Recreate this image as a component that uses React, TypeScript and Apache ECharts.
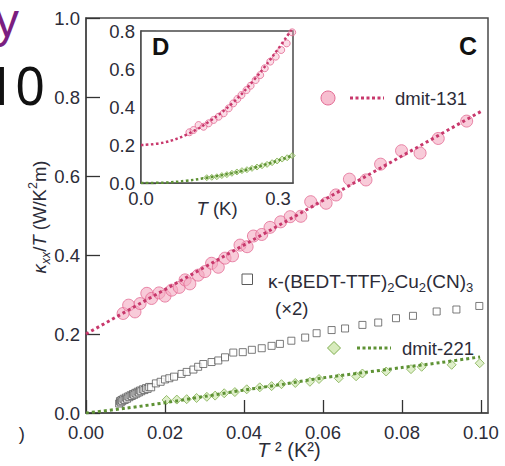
import React, { useEffect, useRef } from "react";
import * as echarts from "echarts";

// ---------- main panel (C): kappa_xx/T vs T^2 ----------
const pinkT2 = [0.0094, 0.0108, 0.0124, 0.0137, 0.0154, 0.0166, 0.0185, 0.0200, 0.0217, 0.0236, 0.0251, 0.0263, 0.0284, 0.0301, 0.0318, 0.0335, 0.0352, 0.0371, 0.0390, 0.0408, 0.0424, 0.0445, 0.0466, 0.0493, 0.0517, 0.0544, 0.0569, 0.0608, 0.0633, 0.0667, 0.0709, 0.0746, 0.0799, 0.0846, 0.0892, 0.0964];
const pinkK = [0.252, 0.273, 0.256, 0.277, 0.303, 0.290, 0.304, 0.296, 0.311, 0.318, 0.337, 0.327, 0.349, 0.358, 0.379, 0.369, 0.392, 0.398, 0.425, 0.421, 0.448, 0.452, 0.470, 0.484, 0.497, 0.498, 0.535, 0.531, 0.552, 0.592, 0.590, 0.630, 0.664, 0.658, 0.695, 0.739];
const pinkFitT2 = [0, 0.1003];
const pinkFitK = [0.2, 0.765];

const sqT2 = [0.0084, 0.0086, 0.0088, 0.0090, 0.0092, 0.0095, 0.0098, 0.0101, 0.0104, 0.0107, 0.0110, 0.0113, 0.0116, 0.0119, 0.0122, 0.0125, 0.0128, 0.0131, 0.0134, 0.0137, 0.0140, 0.0144, 0.0148, 0.0152, 0.0156, 0.0160, 0.0165, 0.0177, 0.0189, 0.0200, 0.0211, 0.0223, 0.0242, 0.0255, 0.0272, 0.0284, 0.0297, 0.0318, 0.0335, 0.0352, 0.0373, 0.0397, 0.0420, 0.0445, 0.0470, 0.0491, 0.0520, 0.0555, 0.0584, 0.0622, 0.0656, 0.0700, 0.0740, 0.0785, 0.0828, 0.0888, 0.0938, 0.0996];
const sqK = [0.024, 0.030, 0.027, 0.033, 0.030, 0.036, 0.033, 0.039, 0.036, 0.042, 0.040, 0.045, 0.043, 0.048, 0.046, 0.051, 0.049, 0.054, 0.052, 0.057, 0.055, 0.060, 0.058, 0.063, 0.061, 0.066, 0.065, 0.075, 0.079, 0.085, 0.088, 0.092, 0.099, 0.104, 0.110, 0.117, 0.124, 0.129, 0.133, 0.141, 0.153, 0.154, 0.160, 0.164, 0.170, 0.175, 0.183, 0.191, 0.202, 0.210, 0.214, 0.223, 0.229, 0.240, 0.246, 0.257, 0.262, 0.271];

const greenT2 = [0.0204, 0.0230, 0.0255, 0.0280, 0.0306, 0.0327, 0.0350, 0.0377, 0.0407, 0.0440, 0.0470, 0.0495, 0.0530, 0.0567, 0.0590, 0.0640, 0.0684, 0.0700, 0.0760, 0.0823, 0.0850, 0.0926, 0.0997];
const greenK = [0.033, 0.034, 0.035, 0.038, 0.041, 0.044, 0.050, 0.053, 0.060, 0.065, 0.068, 0.073, 0.076, 0.079, 0.086, 0.088, 0.093, 0.100, 0.105, 0.111, 0.117, 0.122, 0.126];
const greenFitT2 = [0, 0.01, 0.02, 0.03, 0.04, 0.05, 0.06, 0.07, 0.08, 0.09, 0.0998];
const greenFitK = [0, 0.012, 0.026, 0.042, 0.058, 0.073, 0.089, 0.102, 0.115, 0.128, 0.142];

// ---------- inset (D): kappa_xx/T vs T ----------
const insetPinkT = [0.106, 0.115, 0.126, 0.137, 0.148, 0.159, 0.170, 0.181, 0.192, 0.202, 0.211, 0.220, 0.231, 0.240, 0.251, 0.261, 0.271, 0.283, 0.295, 0.307, 0.319, 0.331];
const insetPinkK = [0.267, 0.279, 0.305, 0.296, 0.314, 0.332, 0.349, 0.367, 0.393, 0.419, 0.442, 0.463, 0.489, 0.512, 0.542, 0.568, 0.604, 0.639, 0.665, 0.700, 0.735, 0.793];
const insetPinkFitT = [0, 0.05, 0.1, 0.15, 0.2, 0.25, 0.3, 0.333];
const insetPinkFitK = [0.2, 0.213, 0.255, 0.325, 0.42, 0.55, 0.705, 0.82];

const insetGreenT = [0.144, 0.155, 0.166, 0.177, 0.188, 0.199, 0.210, 0.221, 0.232, 0.243, 0.254, 0.265, 0.276, 0.287, 0.298, 0.309, 0.320, 0.331];
const insetGreenK = [0.028, 0.030, 0.033, 0.039, 0.044, 0.051, 0.058, 0.065, 0.070, 0.077, 0.084, 0.091, 0.098, 0.107, 0.116, 0.126, 0.133, 0.144];
const insetGreenFitT = [0, 0.05, 0.1, 0.15, 0.2, 0.25, 0.3, 0.333];
const insetGreenFitK = [0, 0.002, 0.012, 0.03, 0.052, 0.082, 0.118, 0.146];

const insetXLabels = ["0.0", "0.3"];

const zip = (xs: number[], ys: number[]) => xs.map((x, i) => [x, ys[i]]);

const FONT = "'Liberation Sans', Arial, Helvetica, sans-serif";
const TXT = "#2c2c38";
const AXIS = "#4a4a4a";
const PINK_FILL = "rgba(244,168,192,0.75)";
const PINK_EDGE = "#e36a93";
const PINK_LINE = "#c8386c";
const GREEN_FILL = "rgba(198,226,160,0.7)";
const GREEN_EDGE = "#7fae4f";
const GREEN_LINE = "#5e9234";

export default function App() {
  const ref = useRef<HTMLDivElement>(null);
  useEffect(() => {
    if (!ref.current) return;
    const chart = echarts.init(ref.current, undefined, { renderer: "svg" });

    const labelBase = { fontFamily: FONT, fontSize: 18.5, color: TXT };
    const tickStyle = { color: "#333", width: 1.3 };
    const axisLine = { show: true, lineStyle: { color: AXIS, width: 1.5 } };

    const option: any = {
      animation: false,
      backgroundColor: "#fff",
      grid: [
        { left: 86, top: 18, width: 402, height: 395, show: true, borderColor: AXIS, borderWidth: 1.5, backgroundColor: "transparent" },
        { left: 141, top: 31, width: 152, height: 152, show: true, borderColor: AXIS, borderWidth: 1.5, backgroundColor: "#fff", z: 5 },
      ],
      xAxis: [
        {
          gridIndex: 0, type: "value", min: 0, max: 0.1018, interval: 0.02,
          axisLine, splitLine: { show: false },
          axisTick: { show: true, inside: true, length: 13, lineStyle: tickStyle },
          axisLabel: {
            ...labelBase, margin: 10, showMaxLabel: false,
            formatter: (v: number) => (Math.abs(v * 50 - Math.round(v * 50)) < 1e-6 ? v.toFixed(2) : ""),
          },
        },
        {
          gridIndex: 1, type: "value", min: 0, max: 0.3328, interval: 0.1,
          axisLine, splitLine: { show: false },
          axisTick: { show: true, inside: true, length: 12, lineStyle: tickStyle },
          axisLabel: {
            ...labelBase, margin: 6, showMaxLabel: false,
            formatter: (v: number) => {
              if (Math.abs(v) < 1e-6) return insetXLabels[0];
              if (Math.abs(v - 0.3) < 1e-6) return insetXLabels[1];
              return "";
            },
          },
        },
      ],
      yAxis: [
        {
          gridIndex: 0, type: "value", min: 0, max: 1.0, interval: 0.2,
          axisLine, splitLine: { show: false },
          axisTick: { show: true, inside: true, length: 14, lineStyle: tickStyle },
          axisLabel: { ...labelBase, margin: 6, formatter: (v: number) => v.toFixed(1) },
        },
        {
          gridIndex: 1, type: "value", min: 0, max: 0.8, interval: 0.2,
          axisLine, splitLine: { show: false },
          axisTick: { show: true, inside: true, length: 15, lineStyle: tickStyle },
          axisLabel: { ...labelBase, margin: 6, formatter: (v: number) => v.toFixed(1) },
        },
      ],
      series: [
        {
          type: "scatter", xAxisIndex: 0, yAxisIndex: 0, data: zip(sqT2, sqK),
          symbol: "rect", symbolSize: 7,
          itemStyle: { color: "#fff", borderColor: "#5a5a5a", borderWidth: 1 },
        },
        {
          type: "scatter", xAxisIndex: 0, yAxisIndex: 0, data: zip(greenT2, greenK),
          symbol: "diamond", symbolSize: 9,
          itemStyle: { color: GREEN_FILL, borderColor: GREEN_EDGE, borderWidth: 1 },
        },
        {
          type: "scatter", xAxisIndex: 0, yAxisIndex: 0, data: zip(pinkT2, pinkK),
          symbol: "circle", symbolSize: 12,
          itemStyle: { color: PINK_FILL, borderColor: PINK_EDGE, borderWidth: 1 },
        },
        {
          type: "line", xAxisIndex: 0, yAxisIndex: 0, data: zip(pinkFitT2, pinkFitK),
          showSymbol: false, silent: true,
          lineStyle: { color: PINK_LINE, width: 3, type: [3, 3] },
        },
        {
          type: "line", xAxisIndex: 0, yAxisIndex: 0, data: zip(greenFitT2, greenFitK),
          showSymbol: false, smooth: 0.3, silent: true,
          lineStyle: { color: GREEN_LINE, width: 3, type: [3, 3] },
        },
        {
          type: "scatter", xAxisIndex: 1, yAxisIndex: 1, data: zip(insetGreenT, insetGreenK),
          symbol: "diamond", symbolSize: 6, z: 6,
          itemStyle: { color: GREEN_FILL, borderColor: GREEN_EDGE, borderWidth: 1 },
        },
        {
          type: "scatter", xAxisIndex: 1, yAxisIndex: 1, data: zip(insetPinkT, insetPinkK),
          symbol: "circle", symbolSize: 7, z: 6,
          itemStyle: { color: "rgba(244,168,192,0.5)", borderColor: PINK_EDGE, borderWidth: 1 },
        },
        {
          type: "line", xAxisIndex: 1, yAxisIndex: 1, data: zip(insetPinkFitT, insetPinkFitK),
          showSymbol: false, smooth: 0.4, silent: true, z: 7,
          lineStyle: { color: PINK_LINE, width: 2.5, type: [2.5, 2.5] },
        },
        {
          type: "line", xAxisIndex: 1, yAxisIndex: 1, data: zip(insetGreenFitT, insetGreenFitK),
          showSymbol: false, smooth: 0.4, silent: true, z: 7,
          lineStyle: { color: GREEN_LINE, width: 2.5, type: [2.5, 2.5] },
        },
      ],
      graphic: [
        // cropped neighbour content on the left edge
        { type: "text", x: 19, y: 20, z: 20, style: { text: "y", font: "48px 'Liberation Sans', sans-serif", fill: "#7b1e80", align: "right", verticalAlign: "middle" } },
        { type: "text", x: 45, y: 84, z: 20, style: { text: "10", font: "52px 'Noto Sans', sans-serif", fill: "#111", align: "right", verticalAlign: "middle" } },
        { type: "text", x: 25, y: 433, z: 20, style: { text: ")", font: `18.5px ${FONT}`, fill: TXT, align: "right", verticalAlign: "middle" } },
        // panel letters
        { type: "text", x: 459, y: 46, z: 20, style: { text: "C", font: `bold 25px ${FONT}`, fill: "#111", align: "left", verticalAlign: "middle" } },
        { type: "text", x: 152, y: 46, z: 20, style: { text: "D", font: `bold 24px ${FONT}`, fill: "#111", align: "left", verticalAlign: "middle" } },
        // inset x name
        {
          type: "text", x: 217, y: 208, z: 20,
          style: {
            text: "{i|T}{n| (K)}", align: "center", verticalAlign: "middle",
            rich: {
              i: { fontFamily: FONT, fontSize: 18.5, fontStyle: "italic", fill: TXT },
              n: { fontFamily: FONT, fontSize: 18.5, fill: TXT },
            },
          },
        },
        // main x name
        {
          type: "text", x: 289, y: 450, z: 20,
          style: {
            text: "{i|T}{n| ² (K²)}", align: "center", verticalAlign: "middle",
            rich: {
              i: { fontFamily: FONT, fontSize: 20, fontStyle: "italic", fill: TXT },
              n: { fontFamily: FONT, fontSize: 20, fill: TXT },
            },
          },
        },
        // main y name (rotated)
        {
          type: "text", x: 39, y: 217, rotation: Math.PI / 2, z: 20,
          style: {
            text: "{i|κ}{sub|xx}{n|/}{i|T}{n| (W/K}{sup|2}{n|m)}", align: "center", verticalAlign: "middle",
            rich: {
              i: { fontFamily: FONT, fontSize: 18.5, fontStyle: "italic", fill: TXT, lineHeight: 26 },
              n: { fontFamily: FONT, fontSize: 18.5, fill: TXT, lineHeight: 26 },
              sub: { fontFamily: FONT, fontSize: 12.5, fontStyle: "italic", fill: TXT, lineHeight: 13, verticalAlign: "bottom" },
              sup: { fontFamily: FONT, fontSize: 12.5, fill: TXT, lineHeight: 13, verticalAlign: "top" },
            },
          },
        },
        // legend: dmit-131
        { type: "circle", z: 20, shape: { cx: 328, cy: 98, r: 7 }, style: { fill: PINK_FILL, stroke: PINK_EDGE, lineWidth: 1 } },
        { type: "line", z: 20, shape: { x1: 350, y1: 98, x2: 384, y2: 98 }, style: { stroke: PINK_LINE, lineWidth: 3, lineDash: [3, 2.5] } },
        { type: "text", x: 395, y: 98, z: 20, style: { text: "dmit-131", font: `18.5px ${FONT}`, fill: TXT, align: "left", verticalAlign: "middle" } },
        // legend: kappa-(BEDT-TTF)2Cu2(CN)3
        { type: "rect", z: 20, shape: { x: 242, y: 274, width: 10.5, height: 10.5 }, style: { fill: "#fff", stroke: "#5a5a5a", lineWidth: 1 } },
        {
          type: "text", x: 268, y: 281, z: 20,
          style: {
            text: "{n|κ-(BEDT-TTF)}{sub|2}{n|Cu}{sub|2}{n|(CN)}{sub|3}", align: "left", verticalAlign: "middle",
            rich: {
              n: { fontFamily: FONT, fontSize: 19, fill: TXT, lineHeight: 26 },
              sub: { fontFamily: FONT, fontSize: 13, fill: TXT, lineHeight: 13, verticalAlign: "bottom" },
            },
          },
        },
        { type: "text", x: 275, y: 308, z: 20, style: { text: "(×2)", font: `18.5px ${FONT}`, fill: TXT, align: "left", verticalAlign: "middle" } },
        // legend: dmit-221
        { type: "polygon", z: 20, shape: { points: [[334, 341.5], [340.5, 348], [334, 354.5], [327.5, 348]] }, style: { fill: GREEN_FILL, stroke: GREEN_EDGE, lineWidth: 1 } },
        { type: "line", z: 20, shape: { x1: 357, y1: 348, x2: 391, y2: 348 }, style: { stroke: GREEN_LINE, lineWidth: 3, lineDash: [3, 2.5] } },
        { type: "text", x: 402, y: 348, z: 20, style: { text: "dmit-221", font: `18.5px ${FONT}`, fill: TXT, align: "left", verticalAlign: "middle" } },
      ],
    };

    chart.setOption(option);
    return () => chart.dispose();
  }, []);

  return <div ref={ref} style={{ width: 505, height: 466, position: "absolute", left: 0, top: 0 }} />;
}
